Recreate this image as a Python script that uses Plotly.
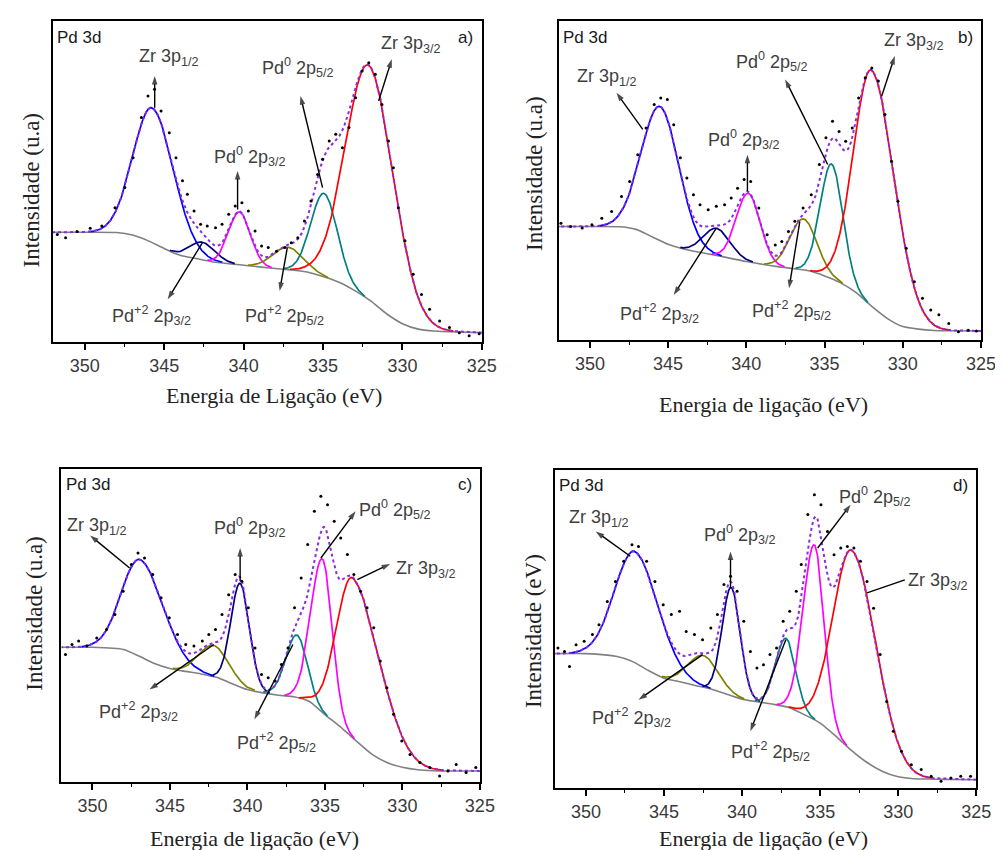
import numpy as np
import plotly.graph_objects as go

# ---------------- DATA ----------------
panel_tags = ["a)", "b)", "c)", "d)"]
x_titles = ["Energia de Ligação (eV)", "Energia de ligação (eV)",
            "Energia de ligação (eV)", "Energia de ligação (eV)"]
y_titles = ["Intensidade (u.a)", "Intensidade (u.a)", "Intensidade (u.a)", "Intensidade (eV)"]
x_ticks = [350, 345, 340, 335, 330, 325]

comp_labels = ["Zr 3p<sub>1/2</sub>", "Pd<sup>+2</sup> 2p<sub>3/2</sub>", "Pd<sup>0</sup> 2p<sub>3/2</sub>",
               "Pd<sup>+2</sup> 2p<sub>5/2</sub>", "Pd<sup>0</sup> 2p<sub>5/2</sub>", "Zr 3p<sub>3/2</sub>"]

# Shirley-type background (energy in eV, intensity in a.u. 0..1)
bg_energy = [325, 327, 328, 329, 330, 331, 332, 333, 334, 335, 336, 337, 338, 340, 342, 343, 344, 345, 346, 347, 348, 350, 352]
bg_a = [0.029, 0.032, 0.034, 0.040, 0.057, 0.088, 0.128, 0.160, 0.186, 0.204, 0.218, 0.224, 0.229, 0.239, 0.250, 0.260, 0.270, 0.291, 0.315, 0.333, 0.341, 0.342, 0.342]
bg_b = [0.028, 0.029, 0.030, 0.034, 0.042, 0.068, 0.106, 0.149, 0.180, 0.201, 0.217, 0.224, 0.230, 0.246, 0.266, 0.275, 0.285, 0.300, 0.323, 0.346, 0.355, 0.356, 0.356]
bg_c = [0.035, 0.035, 0.036, 0.039, 0.047, 0.062, 0.090, 0.132, 0.176, 0.215, 0.257, 0.272, 0.277, 0.295, 0.334, 0.345, 0.353, 0.362, 0.378, 0.402, 0.423, 0.430, 0.430]
bg_d = [0.026, 0.027, 0.028, 0.029, 0.035, 0.052, 0.080, 0.118, 0.163, 0.204, 0.230, 0.253, 0.263, 0.279, 0.311, 0.322, 0.334, 0.345, 0.369, 0.397, 0.413, 0.422, 0.422]

# fitted components, order: Zr3p1/2, Pd+2 2p3/2, Pd0 2p3/2, Pd+2 2p5/2, Pd0 2p5/2, Zr3p3/2
# widths given separately for the high-energy side (hi) and low-energy side (lo) of each peak
center_a = [345.75, 342.60, 340.26, 337.20, 334.93, 332.12]
height_a = [0.42, 0.055, 0.165, 0.070, 0.26, 0.73]
sig_hi_a = [1.20, 0.80, 0.68, 0.95, 0.83, 1.45]
sig_lo_a = [1.35, 0.80, 0.68, 0.95, 0.83, 1.55]

center_b = [345.50, 341.90, 339.88, 336.35, 334.55, 331.98]
height_b = [0.42, 0.085, 0.215, 0.160, 0.36, 0.74]
sig_hi_b = [1.20, 0.85, 0.76, 0.85, 0.72, 1.15]
sig_lo_b = [1.20, 0.85, 0.76, 0.85, 0.72, 1.45]

center_c = [346.90, 342.17, 340.47, 336.80, 335.15, 333.20]
height_c = [0.31, 0.10, 0.33, 0.20, 0.49, 0.51]
sig_hi_c = [1.20, 0.95, 0.60, 0.72, 0.75, 1.05]
sig_lo_c = [1.50, 0.95, 0.60, 0.65, 0.62, 1.75]

center_d = [346.84, 342.50, 340.70, 337.20, 335.37, 332.95]
height_d = [0.35, 0.10, 0.34, 0.215, 0.55, 0.63]
sig_hi_d = [1.30, 0.95, 0.58, 0.65, 0.72, 1.20]
sig_lo_d = [1.50, 0.95, 0.58, 0.62, 0.62, 1.55]

exp_e_a = [351.73, 351.21, 350.49, 349.66, 348.93, 348.10, 347.48, 346.96, 346.44, 346.02, 345.61, 345.20, 344.68, 344.26, 343.85, 343.54, 343.12, 342.71, 342.29, 341.77, 341.36, 340.94, 340.53, 340.11, 339.70, 339.28, 338.87, 338.45, 337.93, 337.41, 337.00, 336.59, 336.17, 335.76, 335.34, 335.03, 334.61, 334.20, 333.78, 333.37, 332.95, 332.54, 332.12, 331.71, 331.29, 330.88, 330.57, 330.26, 329.84, 329.32, 328.80, 328.29, 327.66, 327.04, 326.42, 325.80, 325.17]
exp_i_a = [0.335, 0.325, 0.344, 0.354, 0.361, 0.418, 0.481, 0.574, 0.699, 0.766, 0.787, 0.720, 0.652, 0.574, 0.502, 0.460, 0.408, 0.367, 0.361, 0.356, 0.367, 0.398, 0.424, 0.434, 0.408, 0.346, 0.299, 0.294, 0.283, 0.294, 0.309, 0.325, 0.377, 0.439, 0.522, 0.569, 0.626, 0.647, 0.605, 0.668, 0.761, 0.844, 0.870, 0.834, 0.740, 0.626, 0.543, 0.418, 0.315, 0.211, 0.148, 0.102, 0.065, 0.045, 0.029, 0.019, 0.026]

exp_e_b = [351.85, 351.23, 350.49, 349.87, 349.24, 348.61, 347.98, 347.46, 346.94, 346.41, 345.89, 345.47, 345.05, 344.64, 344.22, 343.80, 343.38, 342.96, 342.44, 341.92, 341.39, 340.97, 340.56, 340.14, 339.72, 339.20, 338.67, 338.15, 337.73, 337.31, 336.90, 336.37, 335.85, 335.33, 334.91, 334.49, 334.07, 333.65, 333.23, 332.82, 332.40, 331.98, 331.56, 331.14, 330.72, 330.31, 329.78, 329.26, 328.74, 328.21, 327.69, 327.06, 326.44, 325.81, 325.29]
exp_i_b = [0.366, 0.356, 0.351, 0.361, 0.382, 0.403, 0.450, 0.497, 0.581, 0.665, 0.738, 0.759, 0.754, 0.675, 0.571, 0.508, 0.455, 0.424, 0.408, 0.419, 0.424, 0.445, 0.476, 0.503, 0.497, 0.414, 0.330, 0.298, 0.309, 0.340, 0.372, 0.414, 0.455, 0.550, 0.634, 0.686, 0.654, 0.623, 0.665, 0.759, 0.822, 0.853, 0.812, 0.707, 0.560, 0.435, 0.288, 0.183, 0.131, 0.094, 0.079, 0.052, 0.026, 0.031, 0.028]

exp_e_c = [351.74, 351.32, 350.89, 350.36, 349.72, 349.09, 348.55, 348.02, 347.49, 347.06, 346.64, 346.11, 345.57, 345.04, 344.51, 343.98, 343.45, 342.91, 342.49, 342.06, 341.64, 341.21, 340.79, 340.36, 339.94, 339.51, 339.09, 338.66, 338.23, 337.81, 337.38, 336.96, 336.53, 336.11, 335.68, 335.26, 334.83, 334.40, 333.98, 333.55, 333.13, 332.70, 332.28, 331.85, 331.43, 331.00, 330.57, 330.04, 329.51, 328.87, 328.23, 327.60, 327.06, 326.53, 325.89, 325.26]
exp_i_c = [0.407, 0.439, 0.450, 0.434, 0.460, 0.487, 0.535, 0.609, 0.694, 0.731, 0.715, 0.662, 0.588, 0.524, 0.471, 0.439, 0.434, 0.450, 0.471, 0.487, 0.535, 0.598, 0.662, 0.641, 0.556, 0.428, 0.343, 0.333, 0.322, 0.375, 0.428, 0.556, 0.651, 0.758, 0.864, 0.912, 0.885, 0.832, 0.779, 0.726, 0.662, 0.609, 0.556, 0.492, 0.386, 0.301, 0.216, 0.131, 0.088, 0.062, 0.046, 0.019, 0.035, 0.056, 0.030, 0.046]

exp_e_d = [351.79, 351.37, 351.05, 350.63, 350.11, 349.58, 349.16, 348.63, 348.11, 347.58, 347.05, 346.63, 346.11, 345.58, 345.05, 344.53, 344.00, 343.58, 343.05, 342.53, 342.00, 341.58, 341.16, 340.74, 340.32, 339.89, 339.47, 339.05, 338.63, 338.21, 337.79, 337.37, 336.95, 336.53, 336.21, 335.79, 335.37, 334.95, 334.53, 334.11, 333.68, 333.26, 332.84, 332.42, 332.00, 331.58, 331.16, 330.74, 330.32, 329.79, 329.16, 328.53, 327.89, 327.26, 326.63, 326.00, 325.37]
exp_i_d = [0.440, 0.429, 0.382, 0.450, 0.461, 0.482, 0.513, 0.586, 0.649, 0.712, 0.764, 0.759, 0.712, 0.649, 0.576, 0.545, 0.555, 0.492, 0.482, 0.466, 0.503, 0.545, 0.639, 0.665, 0.618, 0.524, 0.429, 0.377, 0.387, 0.419, 0.440, 0.524, 0.555, 0.618, 0.702, 0.859, 0.921, 0.890, 0.806, 0.733, 0.754, 0.759, 0.754, 0.712, 0.649, 0.565, 0.419, 0.272, 0.178, 0.115, 0.073, 0.058, 0.037, 0.021, 0.031, 0.037, 0.037]

# ---------------- STYLE / LAYOUT ----------------
colors_ab = ["#0000FF", "#000080", "#FF00FF", "#808000", "#008080", "#FF0000"]
colors_cd = ["#0000FF", "#808000", "#000080", "#008080", "#FF00FF", "#FF0000"]

panels = [
    dict(bg=bg_a, c=center_a, h=height_a, shi=sig_hi_a, slo=sig_lo_a, ex=exp_e_a, ey=exp_i_a,
         colors=colors_ab, dom_x=[0.0456, 0.4796], dom_y=[0.6071, 0.9847]),
    dict(bg=bg_b, c=center_b, h=height_b, shi=sig_hi_b, slo=sig_lo_b, ex=exp_e_b, ey=exp_i_b,
         colors=colors_ab, dom_x=[0.5573, 0.9848], dom_y=[0.6094, 0.9847]),
    dict(bg=bg_c, c=center_c, h=height_c, shi=sig_hi_c, slo=sig_lo_c, ex=exp_e_c, ey=exp_i_c,
         colors=colors_cd, dom_x=[0.0541, 0.4776], dom_y=[0.0894, 0.4580]),
    dict(bg=bg_d, c=center_d, h=height_d, shi=sig_hi_d, slo=sig_lo_d, ex=exp_e_d, ey=exp_i_d,
         colors=colors_cd, dom_x=[0.5533, 0.9801], dom_y=[0.0824, 0.4568]),
]

# label placement (x in eV, y in axis fraction) and arrows (tail -> head), per component
label_pos = [
    [(344.68, 0.886), (345.82, 0.081), (339.59, 0.579), (337.41, 0.081), (336.59, 0.855), (329.43, 0.927)],
    [(348.92, 0.822), (345.58, 0.084), (340.14, 0.628), (337.10, 0.094), (338.36, 0.874), (329.26, 0.937)],
    [(349.72, 0.816), (347.06, 0.226), (339.83, 0.811), (338.13, 0.125), (330.47, 0.869), (328.45, 0.678)],
    [(349.16, 0.848), (347.05, 0.220), (340.11, 0.796), (338.21, 0.115), (331.47, 0.916), (327.47, 0.649)],
]
arrows = [
    [(345.6, 0.730, 345.6, 0.829), (342.6, 0.309, 344.78, 0.133), (340.38, 0.413, 340.38, 0.533),
     (337.25, 0.294, 337.73, 0.159), (335.03, 0.481, 336.42, 0.766), (331.50, 0.751, 330.67, 0.881)],
    [(346.62, 0.660, 348.3, 0.775), (341.92, 0.351, 344.64, 0.141), (339.93, 0.466, 339.93, 0.581),
     (336.58, 0.372, 337.27, 0.162), (334.8, 0.55, 337.52, 0.817), (331.35, 0.764, 330.51, 0.890)],
    [(347.6, 0.683, 350.15, 0.787), (342.17, 0.439, 346.32, 0.295), (340.47, 0.641, 340.47, 0.747),
     (337.06, 0.439, 339.55, 0.200), (335.26, 0.715, 333.02, 0.864), (332.91, 0.646, 330.79, 0.696)],
    [(347.16, 0.728, 349.37, 0.806), (342.53, 0.419, 346.63, 0.277), (340.74, 0.628, 340.74, 0.743),
     (337.2, 0.466, 339.47, 0.178), (335.16, 0.754, 333.05, 0.890), (332.0, 0.613, 329.58, 0.654)],
]
arrow_heads = [[True] * 6, [True] * 6, [True] * 6, [True, True, True, True, True, False]]

x_title_pos = [(0.269, 0.5447), (0.7647, 0.534), (0.249, 0.0235), (0.7647, 0.0235)]
y_title_pos = [(0.0239, 0.786), (0.5334, 0.806), (0.0269, 0.288), (0.5314, 0.267)]

SANS = "Liberation Sans, Arial, sans-serif"
SERIF = "Liberation Serif, Times New Roman, serif"

fig = go.Figure()
energy = np.linspace(325, 352, 1351)
annotations = []

for i, p in enumerate(panels):
    n = "" if i == 0 else str(i + 1)
    xa, ya = "x" + n, "y" + n
    bg = np.interp(energy, bg_energy, p["bg"])
    total = bg.copy()
    comps = []
    for c, h, shi, slo in zip(p["c"], p["h"], p["shi"], p["slo"]):
        s = np.where(energy > c, shi, slo)
        g = h * np.exp(-0.5 * ((energy - c) / s) ** 2)
        total = total + g
        comps.append(g)

    fig.add_trace(go.Scatter(x=bg_energy, y=p["bg"], mode="lines", xaxis=xa, yaxis=ya,
                             line=dict(color="#808080", width=1.6, shape="spline", smoothing=0.6),
                             hoverinfo="skip"))
    for g, col in zip(comps, p["colors"]):
        yv = np.where(g > 0.002, bg + g, np.nan)
        fig.add_trace(go.Scatter(x=energy, y=yv, mode="lines", xaxis=xa, yaxis=ya,
                                 line=dict(color=col, width=1.7), hoverinfo="skip"))
    fig.add_trace(go.Scatter(x=energy, y=total, mode="lines", xaxis=xa, yaxis=ya,
                             line=dict(color="#8A2BE2", width=2, dash="dot"), hoverinfo="skip"))
    fig.add_trace(go.Scatter(x=p["ex"], y=p["ey"], mode="markers", xaxis=xa, yaxis=ya,
                             marker=dict(color="black", size=3), hoverinfo="skip"))

    for k in range(len(comp_labels)):
        tx, ty, hx, hy = arrows[i][k]
        if arrow_heads[i][k]:
            fig.add_trace(go.Scatter(x=[tx, hx], y=[ty, hy], mode="lines+markers", xaxis=xa, yaxis=ya,
                                     line=dict(color="black", width=1.4),
                                     marker=dict(symbol="arrow", size=[0, 9], angleref="previous",
                                                 color="black", line=dict(width=0)),
                                     hoverinfo="skip"))
        else:
            fig.add_trace(go.Scatter(x=[tx, hx], y=[ty, hy], mode="lines", xaxis=xa, yaxis=ya,
                                     line=dict(color="black", width=1.4), hoverinfo="skip"))

    fig.update_layout(**{
        "xaxis" + n: dict(domain=p["dom_x"], anchor=ya, range=[352, 325], tickmode="array",
                          tickvals=x_ticks, ticktext=[str(t) for t in x_ticks],
                          ticks="outside", ticklen=6, tickwidth=1.5, tickcolor="black",
                          minor=dict(tickvals=[347.5, 342.5, 337.5, 332.5, 327.5], ticks="outside",
                                     ticklen=3, tickwidth=1.3, tickcolor="black"),
                          showline=True, mirror=True, linecolor="black", linewidth=2,
                          showgrid=False, zeroline=False,
                          tickfont=dict(family=SANS, size=18, color="#3a3a3a")),
        "yaxis" + n: dict(domain=p["dom_y"], anchor=xa, range=[0, 1], showticklabels=False,
                          ticks="", showline=True, mirror=True, linecolor="black", linewidth=2,
                          showgrid=False, zeroline=False),
    })

    annotations.append(dict(x=351.85, y=0.985, xref=xa, yref=ya, text="Pd 3d", showarrow=False,
                            xanchor="left", yanchor="top",
                            font=dict(family=SANS, size=17, color="#1a1a1a")))
    annotations.append(dict(x=325.4, y=0.985, xref=xa, yref=ya, text=panel_tags[i], showarrow=False,
                            xanchor="right", yanchor="top",
                            font=dict(family=SANS, size=17, color="#1a1a1a")))
    for k, lab in enumerate(comp_labels):
        lx, ly = label_pos[i][k]
        annotations.append(dict(x=lx, y=ly, xref=xa, yref=ya, text=lab, showarrow=False,
                                xanchor="center", yanchor="middle",
                                font=dict(family=SANS, size=18, color="#404040")))
    xt = x_title_pos[i]
    annotations.append(dict(x=xt[0], y=xt[1], xref="paper", yref="paper", text=x_titles[i],
                            showarrow=False, xanchor="center", yanchor="middle",
                            font=dict(family=SERIF, size=22, color="#222222")))
    yt = y_title_pos[i]
    annotations.append(dict(x=yt[0], y=yt[1], xref="paper", yref="paper", text=y_titles[i],
                            showarrow=False, xanchor="center", yanchor="middle", textangle=-90,
                            font=dict(family=SERIF, size=23, color="#222222")))

fig.update_layout(width=1003, height=850, margin=dict(l=0, r=0, t=0, b=0),
                  plot_bgcolor="white", paper_bgcolor="white", showlegend=False,
                  annotations=annotations)

fig.write_html("out.html")
